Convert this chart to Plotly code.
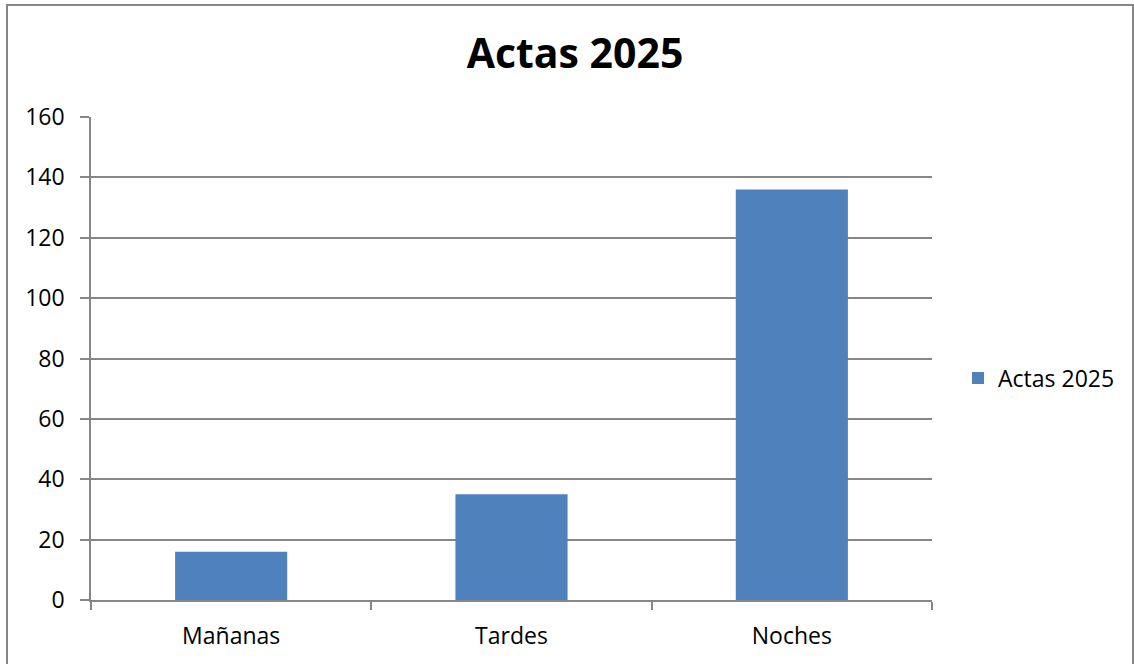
import plotly.graph_objects as go

categorias = ["Mañanas", "Tardes", "Noches"]
actas_2025 = [16, 35, 136]
serie = "Actas 2025"

W, H = 1134, 664
L, R, T, B = 91, 202, 117, 64
pw, ph = W - L - R, H - T - B
GRIS = "#868686"


def px_x(x):
    return (x - L) / pw


def px_y(y):
    return (H - B - y) / ph


fig = go.Figure(go.Bar(
    x=categorias, y=actas_2025, name=serie,
    marker=dict(color="#4F81BD", line=dict(width=0)),
    showlegend=True,
))

fig.update_layout(
    width=W, height=H,
    margin=dict(l=L, r=R, t=T, b=B),
    paper_bgcolor="white", plot_bgcolor="white",
    font=dict(family="Open Sans, Noto Sans, sans-serif", size=23, color="black"),
    title=dict(text="<b>Actas 2025</b>", font=dict(size=41, color="black"),
               x=575 / W, xanchor="center", y=1 - 54 / H, yanchor="middle"),
    bargap=0.6,
    showlegend=True,
    legend=dict(x=px_x(958), xanchor="left", y=px_y(378), yanchor="middle",
                font=dict(size=23), itemwidth=30, bgcolor="rgba(0,0,0,0)"),
    shapes=[dict(type="rect", xref="paper", yref="paper",
                 x0=px_x(7), x1=px_x(1133), y0=px_y(700), y1=px_y(5),
                 line=dict(color=GRIS, width=2), layer="below")],
)

fig.update_yaxes(range=[0, 160], dtick=20, showgrid=True, gridcolor=GRIS,
                 gridwidth=1.5, showline=True, linecolor=GRIS, linewidth=1.5,
                 ticks="outside", ticklen=9, tickcolor=GRIS, tickwidth=1.5,
                 zeroline=False, ticklabelstandoff=11)
fig.update_xaxes(showline=True, linecolor=GRIS, linewidth=1.5,
                 ticks="outside", ticklen=8, tickcolor=GRIS, tickwidth=1.5,
                 tickson="boundaries", ticklabelstandoff=15)

fig.write_html("out.html", config={"displayModeBar": False},
               post_script="document.body.style.margin='0';")
